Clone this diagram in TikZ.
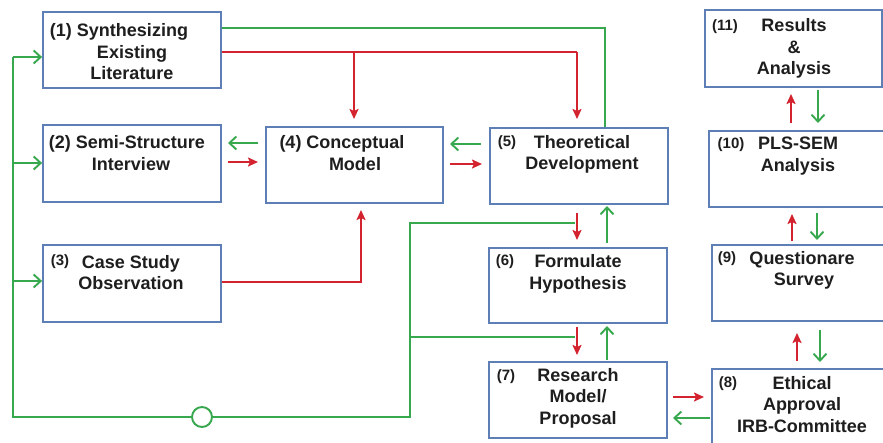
\documentclass[tikz,border=0pt]{standalone}
\usepackage{fontspec}
\setmainfont{Liberation Sans}
\usetikzlibrary{arrows.meta}
\definecolor{boxblue}{HTML}{5E7EB6}
\definecolor{flowgreen}{HTML}{38A84E}
\definecolor{flowred}{HTML}{D2232F}
\definecolor{inktext}{HTML}{1E1E1E}
\begin{document}
\begin{tikzpicture}[x=1pt,y=-1pt,
  stepbox/.style={draw=boxblue, line width=1.8pt, fill=white, inner sep=0pt},
  txt/.style={font=\bfseries\fontsize{18}{21.5}\selectfont, align=center, inner sep=0pt, text=inktext},
  num/.style={font=\bfseries\fontsize{15}{18}\selectfont, inner sep=0pt, text=inktext},
  gline/.style={draw=flowgreen, line width=1.9pt},
  garrow/.style={gline, -{Straight Barb[length=7pt,width=13pt]}},
  rline/.style={draw=flowred, line width=1.9pt},
  rarrow/.style={rline, -{Stealth[length=10pt,width=9pt,inset=2pt]}}]
\useasboundingbox (0,0) rectangle (883,442);
\clip (0,0) rectangle (883,442);
\fill[white] (0,0) rectangle (883,442);

% boxes
\node[stepbox, minimum width=178pt, minimum height=76pt] (b1) at (132,50) {};
\node[stepbox, minimum width=178pt, minimum height=77pt] (b2) at (132,163.5) {};
\node[stepbox, minimum width=178pt, minimum height=77pt] (b3) at (132,283.5) {};
\node[stepbox, minimum width=177pt, minimum height=76pt] (b4) at (354.5,165) {};
\node[stepbox, minimum width=178pt, minimum height=76pt] (b5) at (579,166) {};
\node[stepbox, minimum width=178pt, minimum height=75pt] (b6) at (578,285.5) {};
\node[stepbox, minimum width=178pt, minimum height=76pt] (b7) at (578,400) {};
\node[stepbox, minimum width=176pt, minimum height=80pt] (b8) at (800,409) {};
\node[stepbox, minimum width=176pt, minimum height=76pt] (b9) at (800,283) {};
\node[stepbox, minimum width=179pt, minimum height=76pt] (b10) at (798.5,169) {};
\node[stepbox, minimum width=177pt, minimum height=77pt] (b11) at (793.5,48.5) {};

% box texts
\node[txt] (t1) at (132,52) {(1) Synthesizing\hspace*{26pt}\\Existing\\Literature};
\node[txt] (t2) at (131,153) {(2) Semi-Structure\hspace*{8pt}\\Interview};
\node[txt] (t3) at (131,272.5) {Case Study\\Observation};
\node[num] (n3) at (60,262) {(3)};
\node[txt] (t4) at (355,153) {(4) Conceptual\hspace*{26pt}\\Model};
\node[txt] (t5) at (582,154.5) {Theoretical\\Development};
\node[num] (n5) at (507,143) {(5)};
\node[txt] (t6) at (578,274) {Formulate\\Hypothesis};
\node[num] (n6) at (505,262) {(6)};
\node[txt] (t7) at (578,398) {Research\\Model/\\Proposal};
\node[num] (n7) at (506,377) {(7)};
\node[txt] (t8) at (802,404.5) {Ethical\\Approval\\IRB-Committee};
\node[num] (n8) at (728,384) {(8)};
\node[txt] (t9) at (804,270.5) {Questionare\hspace*{4pt}\\Survey};
\node[num] (n9) at (727,259) {(9)};
\node[txt] (t10) at (798,156) {PLS-SEM\\Analysis};
\node[num] (n10) at (731,145) {(10)};
\node[txt] (t11) at (794,48.5) {Results\\\&\\Analysis};
\node[num] (n11) at (725,27) {(11)};

% feedback loop on the left and bottom
\coordinate (lt) at (13,57);
\coordinate (lb) at (13,417);
\coordinate (rb) at (410,417);
\coordinate (rt) at (410,223);
\coordinate (rm) at (410,337);
\draw[gline] (lt) -- (lb) -- (rb) -- (rt) -- (575,223);
\draw[gline] (rm) -- (575,337);
\draw[garrow] (lt) -- (b1.west |- lt);
\draw[garrow] (13,163) -- (b2.west |- 0,163);
\draw[garrow] (13,281) -- (b3.west |- 0,281);
\node[circle, draw=flowgreen, line width=1.9pt, fill=white, minimum size=20pt, inner sep=0pt] (hub) at (202,417) {};

% links from (1) to (4) and (5)
\draw[gline] (b1.east |- 0,28) -| (605,28) -- (b5.north -| 605,0);
\draw[rline] (b1.east |- 0,52) -- (577,52);
\draw[rarrow] (354,52) -- (354,119);
\draw[rarrow] (577,52) -- (577,119);

% (2) <-> (4) <-> (5)
\draw[garrow] (258,143) -- (228,143);
\draw[rarrow] (228,162) -- (258,162);
\draw[garrow] (481,144) -- (450,144);
\draw[rarrow] (450,164) -- (482,164);

% (3) to (4)
\draw[rarrow] (b3.east |- 0,282) -| (361,210);

% (5) <-> (6) <-> (7)
\draw[rarrow] (577,213) -- (577,240);
\draw[garrow] (607,243) -- (607,206);
\draw[rarrow] (577,327) -- (577,355);
\draw[garrow] (607,360) -- (607,326);

% (7) <-> (8)
\draw[rarrow] (673,397) -- (704,397);
\draw[garrow] (710,418) -- (673,418);

% right column
\draw[rarrow] (797,361) -- (797,333);
\draw[garrow] (820,330) -- (820,362);
\draw[rarrow] (792,241) -- (792,214);
\draw[garrow] (817,213) -- (817,240);
\draw[rarrow] (791,123) -- (791,94);
\draw[garrow] (818,90) -- (818,123);
\end{tikzpicture}
\end{document}
